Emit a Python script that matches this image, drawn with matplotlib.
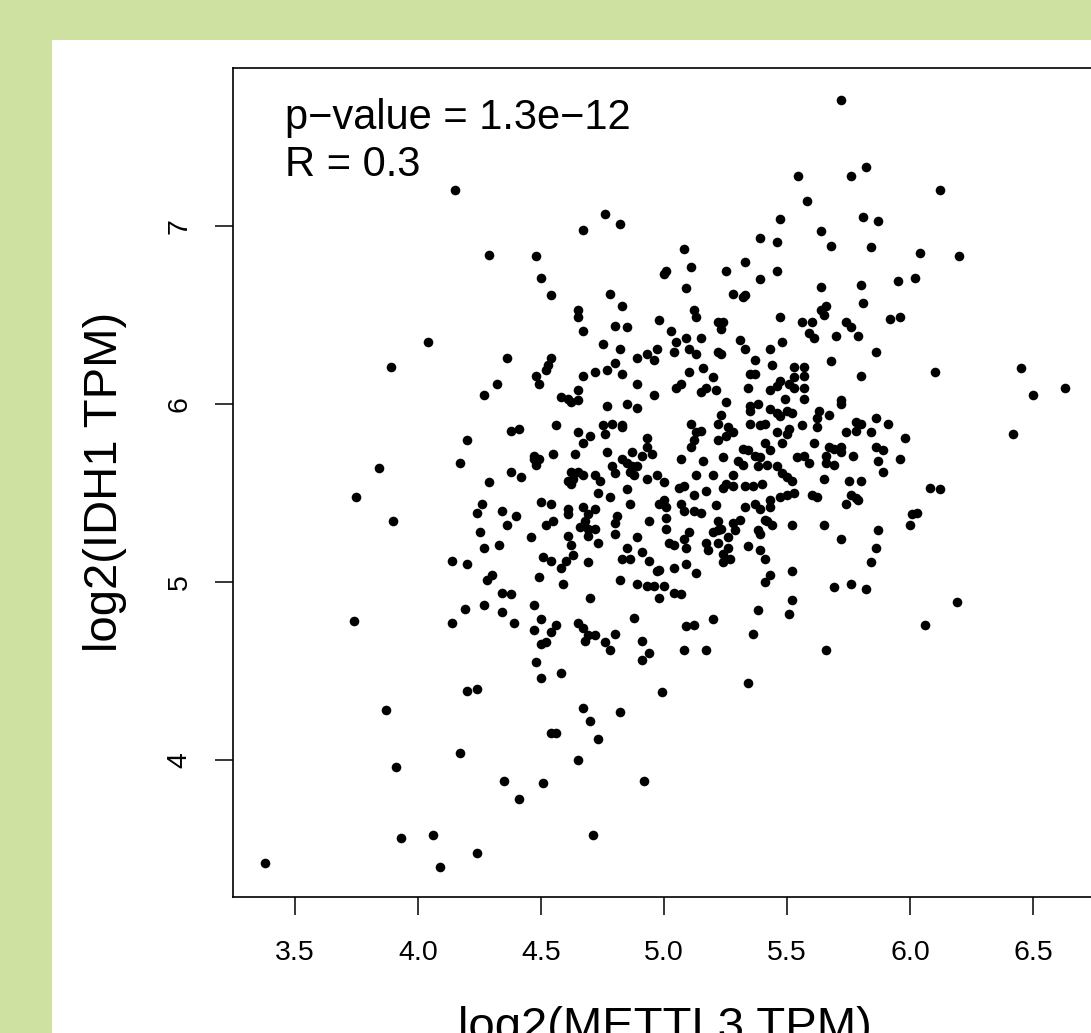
import matplotlib
matplotlib.use("Agg")
import matplotlib.pyplot as plt
from matplotlib.patches import Rectangle

plt.rcParams['font.family'] = ['Liberation Sans', 'DejaVu Sans']

# (METTL3, IDH1) log2 TPM values, grouped by chart region
pts_sparse = [(3.38, 3.42), (3.75, 5.48), (3.74, 4.78), (3.84, 5.64), (3.89, 6.21), (3.90, 5.34),
              (3.87, 4.28), (3.91, 3.96), (3.93, 3.56), (4.04, 6.35), (4.06, 3.58), (4.09, 3.40),
              (4.15, 7.20), (4.17, 5.67), (4.20, 5.80), (4.14, 5.12), (4.14, 4.77), (4.20, 5.10),
              (4.19, 4.85), (4.20, 4.39), (4.24, 4.40), (4.17, 4.04), (4.24, 3.48),
              (4.35, 3.88), (4.41, 3.78)]
pts_left = [(4.26, 5.44), (4.24, 5.39), (4.34, 5.40), (4.40, 5.37), (4.36, 5.32), (4.25, 5.28),
            (4.27, 5.19), (4.33, 5.21), (4.30, 5.04), (4.28, 5.01), (4.34, 4.94), (4.38, 4.93),
            (4.27, 4.87), (4.34, 4.83), (4.39, 4.77),
            (4.36, 6.26), (4.32, 6.11), (4.27, 6.05), (4.38, 5.85), (4.41, 5.86), (4.38, 5.62),
            (4.42, 5.59), (4.29, 5.56), (4.29, 6.84)]
pts_top = [(5.545, 7.28), (5.58, 7.14), (4.76, 7.07), (4.67, 6.98), (4.82, 7.01), (5.47, 7.04),
           (5.39, 6.93), (5.46, 6.91), (5.08, 6.87), (4.48, 6.83), (4.50, 6.71), (5.01, 6.75),
           (5.00, 6.73), (5.11, 6.77), (5.25, 6.75), (5.33, 6.80), (5.46, 6.75), (5.39, 6.70),
           (5.72, 7.71), (5.82, 7.33), (5.76, 7.28), (6.12, 7.20), (5.81, 7.05), (5.87, 7.03),
           (5.64, 6.97), (5.68, 6.89), (5.84, 6.88), (6.04, 6.85), (6.20, 6.83), (5.95, 6.69),
           (6.02, 6.71)]
pts_right = [(5.64, 6.66), (5.80, 6.67), (5.81, 6.57), (5.64, 6.53), (5.66, 6.55), (5.65, 6.50),
             (5.56, 6.46), (5.60, 6.46), (5.74, 6.46), (5.76, 6.43), (5.92, 6.48), (5.96, 6.49),
             (5.59, 6.40), (5.61, 6.37), (5.70, 6.38), (5.79, 6.38), (5.86, 6.29), (5.68, 6.24),
             (5.80, 6.16), (6.10, 6.18), (6.45, 6.20), (6.63, 6.09), (6.50, 6.05), (6.42, 5.83),
             (5.57, 6.21), (5.57, 6.16), (5.57, 6.09), (5.57, 6.03), (5.72, 6.02), (5.72, 6.00),
             (5.63, 5.96), (5.67, 5.94), (5.62, 5.92), (5.62, 5.87), (5.56, 5.88), (5.78, 5.90),
             (5.80, 5.89), (5.86, 5.92), (5.91, 5.89), (5.74, 5.84), (5.78, 5.85), (5.84, 5.84),
             (5.98, 5.81), (5.61, 5.78), (5.67, 5.76), (5.69, 5.75), (5.72, 5.76), (5.72, 5.73),
             (5.86, 5.76), (5.89, 5.74), (5.57, 5.71), (5.59, 5.67), (5.66, 5.71), (5.66, 5.67),
             (5.69, 5.66), (5.77, 5.71), (5.87, 5.68), (5.96, 5.69), (5.89, 5.62), (5.65, 5.58),
             (5.75, 5.57), (5.80, 5.57), (6.08, 5.53), (6.12, 5.52),
             (5.60, 5.49), (5.62, 5.48), (5.76, 5.49), (5.78, 5.47), (5.79, 5.46), (5.74, 5.44),
             (6.01, 5.38), (6.03, 5.39), (6.00, 5.32), (5.65, 5.32), (5.87, 5.29), (5.72, 5.24),
             (5.86, 5.19), (5.84, 5.11), (5.69, 4.97), (5.76, 4.99), (5.82, 4.96), (6.19, 4.89),
             (6.06, 4.76), (5.66, 4.62)]
pts_bottom = [(4.67, 4.29), (4.82, 4.27), (4.70, 4.22), (4.54, 4.15), (4.56, 4.15), (4.73, 4.12),
              (4.65, 4.00), (4.51, 3.87), (4.92, 3.88), (4.71, 3.58)]
pts_center_low = [(4.73, 5.50), (4.78, 5.48), (4.85, 5.52), (4.50, 5.45), (4.54, 5.44), (4.61, 5.41),
                  (4.61, 5.38), (4.67, 5.42), (4.72, 5.41), (4.69, 5.38), (4.68, 5.34), (4.86, 5.44),
                  (4.52, 5.32), (4.55, 5.34), (4.66, 5.31), (4.69, 5.30), (4.72, 5.30), (4.81, 5.37),
                  (4.80, 5.33), (4.46, 5.25), (4.61, 5.26), (4.62, 5.21), (4.69, 5.26), (4.73, 5.22),
                  (4.80, 5.27), (4.94, 5.34), (4.89, 5.25), (4.85, 5.19), (4.91, 5.17), (4.51, 5.14),
                  (4.54, 5.12), (4.63, 5.15), (4.60, 5.12), (4.58, 5.08), (4.69, 5.11), (4.83, 5.13),
                  (4.86, 5.13), (4.94, 5.12), (4.49, 5.03), (4.59, 4.99), (4.82, 5.01), (4.89, 4.99),
                  (4.93, 4.98), (4.96, 4.98), (5.00, 4.98), (4.97, 5.06), (4.98, 5.07), (5.04, 5.08),
                  (5.09, 5.10), (5.13, 5.05), (5.04, 4.94), (5.07, 4.93), (4.98, 4.91), (4.70, 4.91),
                  (4.47, 4.87), (4.50, 4.79), (4.47, 4.73), (4.56, 4.76), (4.54, 4.72), (4.65, 4.77),
                  (4.67, 4.74), (4.69, 4.70), (4.72, 4.70), (4.68, 4.67), (4.80, 4.71), (4.76, 4.66),
                  (4.78, 4.62), (4.52, 4.66), (4.50, 4.65), (4.88, 4.80), (4.91, 4.67), (4.94, 4.60),
                  (4.91, 4.56), (4.48, 4.55), (4.50, 4.46), (4.58, 4.49), (4.99, 4.38), (5.09, 4.75),
                  (5.12, 4.76), (5.20, 4.79), (5.08, 4.62), (5.17, 4.62), (5.34, 4.43), (5.36, 4.71),
                  (5.38, 4.84), (5.51, 4.82), (5.52, 4.90), (5.52, 5.06), (5.43, 5.04), (5.41, 5.00),
                  (5.41, 5.13), (5.39, 5.18), (5.34, 5.20), (5.52, 5.32), (5.27, 5.13), (5.24, 5.11),
                  (5.24, 5.16), (5.26, 5.19), (5.18, 5.18), (5.17, 5.22), (5.22, 5.22), (5.26, 5.25),
                  (5.20, 5.28), (5.22, 5.29), (5.23, 5.30), (5.29, 5.29), (5.28, 5.33), (5.31, 5.35),
                  (5.22, 5.34), (5.38, 5.29), (5.39, 5.27), (5.41, 5.35), (5.42, 5.34), (5.44, 5.32),
                  (5.37, 5.44), (5.39, 5.41), (5.43, 5.46), (5.43, 5.42), (5.33, 5.42), (5.21, 5.43),
                  (5.15, 5.39), (5.12, 5.40), (5.07, 5.44), (5.08, 5.40), (4.98, 5.44), (5.00, 5.46),
                  (5.01, 5.42), (5.01, 5.36), (5.01, 5.30), (5.02, 5.22), (5.04, 5.21), (5.08, 5.24),
                  (5.10, 5.28), (5.09, 5.19), (5.12, 5.49), (5.17, 5.51), (5.47, 5.48), (5.50, 5.49),
                  (5.53, 5.50)]
pts_center_high = [(4.54, 6.61), (4.78, 6.62), (5.09, 6.65), (5.28, 6.62), (5.32, 6.60), (5.33, 6.61),
                   (4.83, 6.55), (4.65, 6.53), (4.65, 6.49), (5.12, 6.53), (5.13, 6.49), (4.98, 6.47),
                   (4.80, 6.44), (4.85, 6.43), (4.67, 6.41), (5.03, 6.41), (5.22, 6.46), (5.24, 6.46),
                   (5.23, 6.42), (5.47, 6.49), (4.75, 6.34), (4.82, 6.31), (5.05, 6.35), (5.09, 6.37),
                   (5.15, 6.37), (5.04, 6.29), (5.10, 6.31), (5.13, 6.28), (5.31, 6.36), (5.33, 6.31),
                   (5.22, 6.29), (5.23, 6.28), (5.43, 6.31), (5.48, 6.35), (4.97, 6.31), (4.93, 6.28),
                   (4.96, 6.25), (4.89, 6.26), (4.54, 6.26), (4.53, 6.22), (4.52, 6.19), (4.48, 6.16),
                   (4.49, 6.11), (4.80, 6.23), (4.83, 6.17), (4.77, 6.19), (4.72, 6.18), (4.67, 6.16),
                   (5.37, 6.25), (5.44, 6.22), (5.10, 6.18), (5.16, 6.20), (5.20, 6.15), (5.35, 6.17),
                   (5.37, 6.17), (5.53, 6.21), (5.53, 6.15), (5.47, 6.13), (5.51, 6.11), (5.53, 6.09),
                   (5.43, 6.08), (5.46, 6.10), (5.34, 6.09), (4.65, 6.08), (4.89, 6.11), (5.05, 6.09),
                   (5.07, 6.11), (5.15, 6.07), (5.17, 6.09), (5.21, 6.08), (4.58, 6.04), (4.61, 6.03),
                   (4.62, 6.01), (4.65, 6.02), (5.25, 6.01), (4.77, 5.99), (4.85, 6.00), (4.89, 5.98),
                   (4.96, 6.05), (5.49, 6.03), (5.35, 5.99), (5.38, 6.00), (5.35, 5.96), (5.43, 5.97),
                   (5.46, 5.95), (5.47, 5.93), (5.50, 5.96), (5.52, 5.95), (5.23, 5.94), (5.22, 5.89),
                   (5.26, 5.87), (5.28, 5.84), (5.35, 5.89), (5.39, 5.88), (5.41, 5.89), (5.11, 5.89),
                   (5.13, 5.84), (5.15, 5.85), (5.12, 5.80), (5.11, 5.76), (5.22, 5.80), (5.25, 5.82),
                   (5.46, 5.84), (5.50, 5.83), (5.51, 5.86), (5.48, 5.78), (4.56, 5.88), (4.75, 5.88),
                   (4.76, 5.83), (4.79, 5.89), (4.83, 5.87), (4.83, 5.88), (4.65, 5.84), (4.70, 5.82),
                   (4.67, 5.78), (4.93, 5.81), (4.93, 5.76), (4.95, 5.72), (4.87, 5.73), (4.91, 5.71),
                   (4.77, 5.73), (4.64, 5.72), (4.55, 5.72), (4.47, 5.71), (4.47, 5.69), (4.49, 5.69),
                   (4.48, 5.66), (5.07, 5.69), (5.16, 5.68), (5.24, 5.70), (5.32, 5.75), (5.34, 5.74),
                   (5.37, 5.71), (5.39, 5.70), (5.42, 5.66), (5.41, 5.78), (5.43, 5.74), (5.30, 5.68),
                   (5.32, 5.66), (5.38, 5.65), (5.46, 5.65), (5.54, 5.70), (5.48, 5.61), (5.50, 5.59),
                   (5.52, 5.57), (4.83, 5.69), (4.85, 5.67), (4.87, 5.65), (4.89, 5.65), (4.79, 5.65),
                   (4.80, 5.61), (4.86, 5.62), (4.88, 5.60), (4.93, 5.58), (4.97, 5.60), (4.62, 5.62),
                   (4.65, 5.62), (4.67, 5.60), (4.63, 5.58), (4.61, 5.57), (4.62, 5.55), (4.72, 5.60),
                   (4.74, 5.57), (5.13, 5.60), (5.20, 5.60), (5.28, 5.60), (5.28, 5.54), (5.33, 5.54),
                   (5.36, 5.54), (5.40, 5.55), (5.24, 5.53), (5.25, 5.55), (5.00, 5.56), (5.08, 5.54),
                   (5.06, 5.53)]

groups = [pts_sparse, pts_left, pts_top, pts_right, pts_bottom, pts_center_low, pts_center_high]
mettl3 = [p[0] for g in groups for p in g]
idh1 = [p[1] for g in groups for p in g]

x_ticks = [3.5, 4.0, 4.5, 5.0, 5.5, 6.0, 6.5]
y_ticks = [4, 5, 6, 7]
stat_lines = ["p\u2212value = 1.3e\u221212", "R = 0.3"]
x_label = "log2(METTL3 TPM)"
y_label = "log2(IDH1 TPM)"

W, H = 1091, 1033
fig = plt.figure(figsize=(W / 100, H / 100), dpi=100)
fig.patch.set_facecolor('#cfe1a0')
fig.add_artist(Rectangle((52 / W, 0), 1.0, 1 - 40 / H, transform=fig.transFigure,
                         facecolor='white', edgecolor='none', zorder=0))

ax = fig.add_axes([233 / W, 136 / H, 864 / W, 829 / H])
ax.set_facecolor('white')
ax.scatter(mettl3, idh1, s=48, c='black', linewidths=0, zorder=3)
ax.set_xlim(3.248, 6.760)
ax.set_ylim(3.230, 7.888)

ax.set_xticks(x_ticks)
ax.set_xticklabels([f"{v:.1f}" for v in x_ticks])
ax.set_yticks(y_ticks)
ax.set_yticklabels([str(v) for v in y_ticks], rotation=90, va='center')
ax.tick_params(axis='both', length=13, width=1.1, labelsize=20.5, color='black')
ax.tick_params(axis='x', pad=18)
ax.tick_params(axis='y', pad=16)
for s in ax.spines.values():
    s.set_linewidth(1.2)
    s.set_color('black')

fig.text(285 / W, 1 - 129 / H, stat_lines[0], fontsize=30, ha='left', va='baseline')
fig.text(285 / W, 1 - 176 / H, stat_lines[1], fontsize=30, ha='left', va='baseline')

fig.text(105 / W, 1 - 482 / H, y_label, fontsize=34, rotation=90, ha='center', va='center')
fig.text(665 / W, 1 - 1040 / H, x_label, fontsize=34, ha='center', va='baseline')

fig.savefig('out.png', dpi=100, facecolor=fig.get_facecolor())
